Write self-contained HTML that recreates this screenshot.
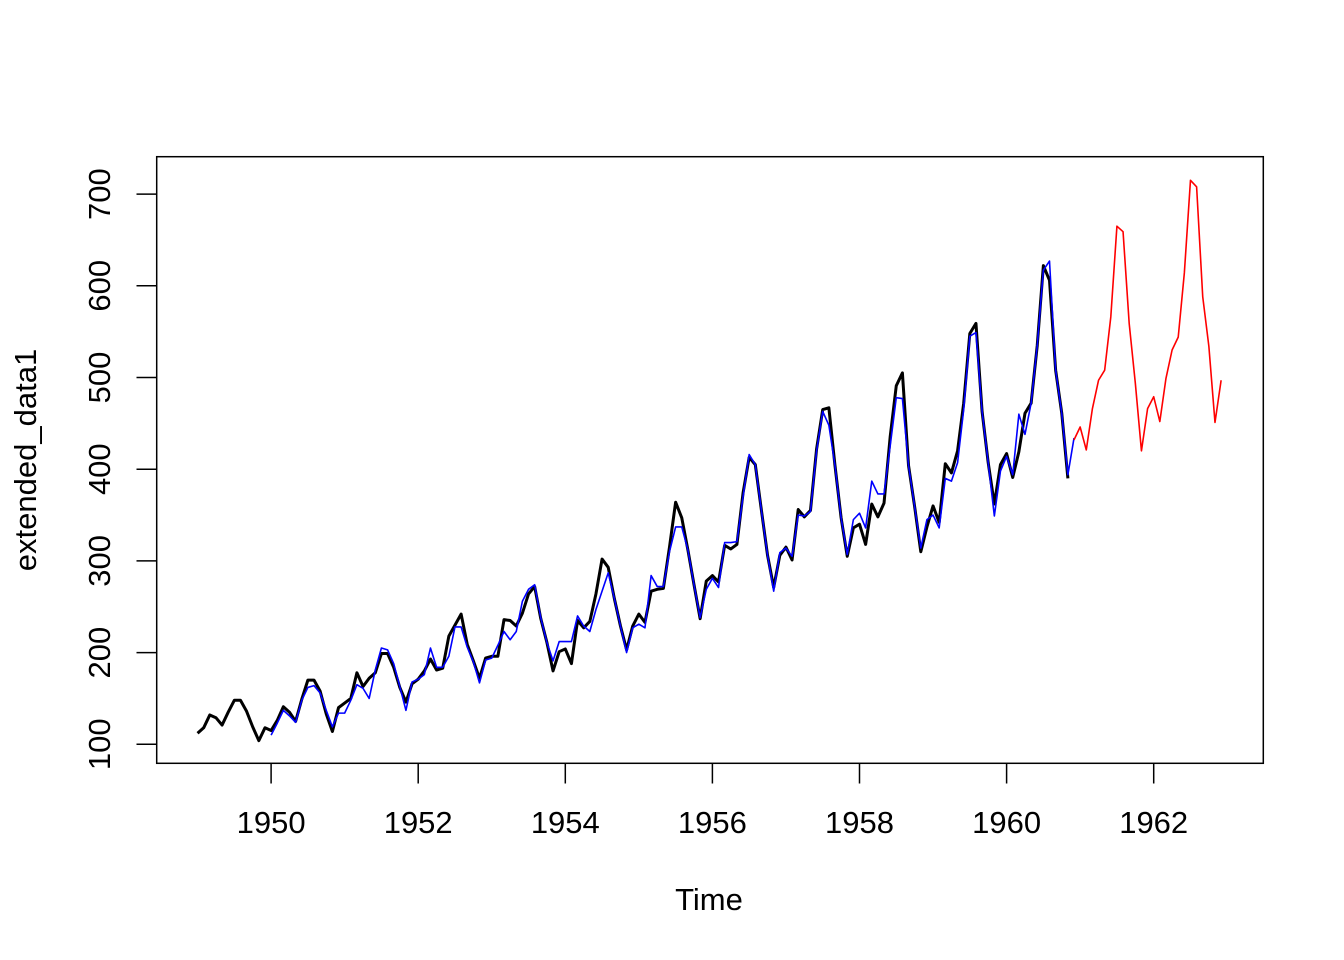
<!DOCTYPE html>
<html>
<head>
<meta charset="utf-8">
<style>
html,body{margin:0;padding:0;background:#fff;}
svg{display:block;}
text{font-family:"Liberation Sans",Arial,sans-serif;fill:#000;}
</style>
</head>
<body>
<svg width="1344" height="960" viewBox="0 0 1344 960" xmlns="http://www.w3.org/2000/svg">
<rect x="0" y="0" width="1344" height="960" fill="#fff"/>
<!-- plot box -->
<rect x="156.7" y="156.7" width="1106.6" height="606.6" fill="none" stroke="#000" stroke-width="1.5"/>
<!-- x ticks -->
<g stroke="#000" stroke-width="1.5">
<line x1="271.1" y1="763.3" x2="271.1" y2="783.5"/>
<line x1="418.2" y1="763.3" x2="418.2" y2="783.5"/>
<line x1="565.3" y1="763.3" x2="565.3" y2="783.5"/>
<line x1="712.4" y1="763.3" x2="712.4" y2="783.5"/>
<line x1="859.5" y1="763.3" x2="859.5" y2="783.5"/>
<line x1="1006.6" y1="763.3" x2="1006.6" y2="783.5"/>
<line x1="1153.7" y1="763.3" x2="1153.7" y2="783.5"/>
</g>
<g font-size="31" text-anchor="middle">
<text x="271.1" y="833">1950</text>
<text x="418.2" y="833">1952</text>
<text x="565.3" y="833">1954</text>
<text x="712.4" y="833">1956</text>
<text x="859.5" y="833">1958</text>
<text x="1006.6" y="833">1960</text>
<text x="1153.7" y="833">1962</text>
</g>
<!-- y ticks -->
<g stroke="#000" stroke-width="1.5">
<line x1="136.5" y1="744.3" x2="156.7" y2="744.3"/>
<line x1="136.5" y1="652.6" x2="156.7" y2="652.6"/>
<line x1="136.5" y1="560.9" x2="156.7" y2="560.9"/>
<line x1="136.5" y1="469.2" x2="156.7" y2="469.2"/>
<line x1="136.5" y1="377.5" x2="156.7" y2="377.5"/>
<line x1="136.5" y1="285.8" x2="156.7" y2="285.8"/>
<line x1="136.5" y1="194.1" x2="156.7" y2="194.1"/>
</g>
<g font-size="31" text-anchor="middle">
<text transform="translate(110,744.3) rotate(-90)">100</text>
<text transform="translate(110,652.6) rotate(-90)">200</text>
<text transform="translate(110,560.9) rotate(-90)">300</text>
<text transform="translate(110,469.2) rotate(-90)">400</text>
<text transform="translate(110,377.5) rotate(-90)">500</text>
<text transform="translate(110,285.8) rotate(-90)">600</text>
<text transform="translate(110,194.1) rotate(-90)">700</text>
</g>
<text x="709" y="910" font-size="31" text-anchor="middle">Time</text>
<text transform="translate(36,460) rotate(-90)" font-size="31" text-anchor="middle">extended_data1</text>

<g transform="matrix(6.12917 0 0 -0.917 197.55 836.0)" fill="none" stroke-linejoin="round">
<!-- black data -->
<polyline vector-effect="non-scaling-stroke" stroke="#000" stroke-width="3" points="
0,112 1,118 2,132 3,129 4,121 5,135 6,148 7,148 8,136 9,119 10,104 11,118
12,115 13,126 14,141 15,135 16,125 17,149 18,170 19,170 20,158 21,133 22,114 23,140
24,145 25,150 26,178 27,163 28,172 29,178 30,199 31,199 32,184 33,162 34,146 35,166
36,171 37,180 38,193 39,181 40,183 41,218 42,230 43,242 44,209 45,191 46,172 47,194
48,196 49,196 50,236 51,235 52,229 53,243 54,264 55,272 56,237 57,211 58,180 59,201
60,204 61,188 62,235 63,227 64,234 65,264 66,302 67,293 68,259 69,229 70,203 71,229
72,242 73,233 74,267 75,269 76,270 77,315 78,364 79,347 80,312 81,274 82,237 83,278
84,284 85,277 86,317 87,313 88,318 89,374 90,413 91,405 92,355 93,306 94,271 95,306
96,315 97,301 98,356 99,348 100,355 101,422 102,465 103,467 104,404 105,347 106,305 107,336
108,340 109,318 110,362 111,348 112,363 113,435 114,491 115,505 116,404 117,359 118,310 119,337
120,360 121,342 122,406 123,396 124,420 125,472 126,548 127,559 128,463 129,407 130,362 131,405
132,417 133,391 134,419 135,461 136,472 137,535 138,622 139,606 140,508 141,461 142,390"/>
<!-- blue fitted -->
<polyline vector-effect="non-scaling-stroke" stroke="#0000ff" stroke-width="1.6" points="
12,110 13,123 14,137 15,131 16,124 17,148 18,162 19,164 20,156 21,137 22,119 23,134
24,134 25,148 26,165 27,161 28,150 29,181 30,205 31,203 32,188 33,163 34,137 35,168
36,171 37,176 38,205 39,184 40,184 41,196 42,228 43,228 44,206 45,190 46,167 47,192
48,194 49,208 50,223 51,214 52,223 53,256 54,269 55,274 56,238 57,211 58,191 59,212
60,212 61,212 62,240 63,229 64,223 65,247 66,267 67,287 68,259 69,229 70,200 71,227
72,231 73,227 74,284 75,272 76,272 77,310 78,337 79,337 80,312 81,274 82,238 83,269
84,281 85,271 86,320 87,320 88,321 89,370 90,416 91,405 92,355 93,306 94,267 95,309
96,314 97,305 98,350 99,349 100,354 101,420 102,463 103,448 104,404 105,347 106,307 107,345
108,352 109,336 110,387 111,373 112,373 113,425 114,478 115,477 116,404 117,359 118,314 119,345
120,350 121,336 122,390 123,387 124,407 125,465 126,545 127,549 128,463 129,407 130,349 131,398
132,414 133,394 134,460 135,438 136,472 137,535 138,617 139,627 140,508 141,461 142,394 143,434"/>
<!-- red forecast -->
<polyline vector-effect="non-scaling-stroke" stroke="#ff0000" stroke-width="1.6" points="
143,432 144,446 145,421 146,466 147,497 148,508 149,566 150,665 151,659 152,559 153,494 154,420 155,466
156,479 157,452 158,499 159,530 160,544 161,614 162,715 163,708 164,588 165,534 166,451 167,497"/>
</g>
</svg>
</body>
</html>
